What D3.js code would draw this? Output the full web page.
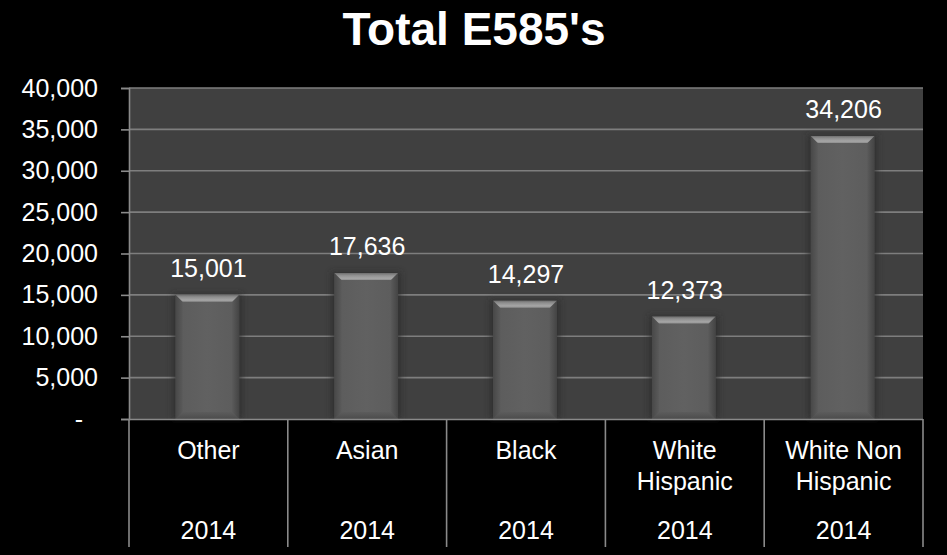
<!DOCTYPE html>
<html><head><meta charset="utf-8">
<script src="https://cdn.jsdelivr.net/npm/d3@7"></script>
<style>
html,body{margin:0;padding:0;background:#000;}
svg{display:block;font-family:"Liberation Sans",Arial,sans-serif;}
</style></head>
<body><svg id="c" width="947" height="555"></svg>
<script>
const title = "Total E585's";
const categories = ["Other","Asian","Black","White Hispanic","White Non Hispanic"];
const categoryLines = [["Other"],["Asian"],["Black"],["White","Hispanic"],["White Non","Hispanic"]];
const years = ["2014","2014","2014","2014","2014"];
const values = [15001,17636,14297,12373,34206];
const yTicks = [0,5000,10000,15000,20000,25000,30000,35000,40000];

const svg = d3.select("#c");
const W = 947, H = 555;
const plot = {left:129, right:923, top:88, bottom:419};
const FS = 25;

svg.append("rect").attr("width",W).attr("height",H).attr("fill","#000");

const x = d3.scaleBand().domain(categories).range([plot.left, plot.right]).paddingInner(0).paddingOuter(0);
const y = d3.scaleLinear().domain([0,40000]).range([plot.bottom, plot.top]);

const defs = svg.append("defs");
function lin(id, x1,y1,x2,y2, stops){
  const g = defs.append("linearGradient").attr("id",id).attr("x1",x1).attr("y1",y1).attr("x2",x2).attr("y2",y2);
  stops.forEach(s=>g.append("stop").attr("offset",s[0]).attr("stop-color",s[1]));
}
lin("body",0,0,1,0,[[0,"#505050"],[0.12,"#5d5d5d"],[0.5,"#616161"],[0.88,"#5d5d5d"],[1,"#4c4c4c"]]);
lin("topb",0,0,0,1,[[0,"#6e6e6e"],[0.3,"#8e8e8e"],[0.75,"#a6a6a6"],[1,"#8e8e8e"]]);
lin("leftb",0,0,1,0,[[0,"#484848"],[1,"#5a5a5a"]]);
lin("rightb",0,0,1,0,[[0,"#5a5a5a"],[1,"#444444"]]);
lin("botb",0,0,0,1,[[0,"#5c5c5c"],[1,"#4c4c4c"]]);
const f = defs.append("filter").attr("id","sh").attr("x","-50%").attr("y","-50%").attr("width","200%").attr("height","200%");
f.append("feGaussianBlur").attr("stdDeviation",3);

// plot background
svg.append("rect").attr("x",plot.left).attr("y",plot.top)
  .attr("width",plot.right-plot.left).attr("height",plot.bottom-plot.top).attr("fill","#404040");

// gridlines
svg.append("g").selectAll("line").data(yTicks.filter(d=>d>0)).join("line")
  .attr("x1",plot.left).attr("x2",plot.right)
  .attr("y1",d=>y(d)).attr("y2",d=>y(d))
  .attr("stroke","#7e7e7e").attr("stroke-width",1.6);

// bars
const bw = x.bandwidth()*0.4;
const b = 7;
const bars = svg.append("g").selectAll("g").data(values).join("g")
  .attr("transform",(d,i)=>`translate(${x(categories[i])+x.bandwidth()/2-bw/2-1},${y(d)})`);
bars.append("rect").attr("x",-3).attr("y",-1).attr("width",bw+6).attr("height",d=>plot.bottom-y(d)+1)
  .attr("fill","#2a2a2a").attr("opacity",0.7).attr("filter","url(#sh)");
bars.append("rect").attr("x",0).attr("y",0).attr("width",bw).attr("height",d=>plot.bottom-y(d)).attr("fill","url(#body)");
bars.append("path").attr("d",d=>{const h=plot.bottom-y(d);return `M0,0 L${b},${b} L${b},${h-b} L0,${h} Z`;}).attr("fill","url(#leftb)");
bars.append("path").attr("d",d=>{const h=plot.bottom-y(d);return `M${bw},0 L${bw-b},${b} L${bw-b},${h-b} L${bw},${h} Z`;}).attr("fill","url(#rightb)");
bars.append("path").attr("d",d=>{const h=plot.bottom-y(d);return `M0,${h} L${b},${h-b} L${bw-b},${h-b} L${bw},${h} Z`;}).attr("fill","url(#botb)");
bars.append("path").attr("d",`M0,0 L${bw},0 L${bw-b},${b} L${b},${b} Z`).attr("fill","url(#topb)");

// data labels
svg.append("g").selectAll("text").data(values).join("text")
  .attr("x",(d,i)=>x(categories[i])+x.bandwidth()/2)
  .attr("y",d=>y(d)-18)
  .attr("text-anchor","middle").attr("fill","#fff").attr("font-size",FS)
  .text(d=>d3.format(",")(d));

// y axis
const yAxis = d3.axisLeft(y).tickValues(yTicks).tickSize(8).tickPadding(23)
  .tickFormat(d=>d===0?"-":d3.format(",")(d));
const ga = svg.append("g").attr("transform",`translate(${plot.left},0)`).call(yAxis);
ga.select(".domain").attr("stroke","#8a8a8a").attr("stroke-width",1.6);
ga.selectAll(".tick line").attr("stroke","#8a8a8a").attr("stroke-width",1.6);
ga.selectAll(".tick text").attr("fill","#fff").attr("font-size",FS)
  .attr("font-family","'Liberation Sans',Arial,sans-serif")
  .attr("dx",d=>d===0?-15:0);

// category axis
svg.append("line").attr("x1",plot.left).attr("x2",plot.right).attr("y1",plot.bottom+0.5).attr("y2",plot.bottom+0.5)
  .attr("stroke","#8a8a8a").attr("stroke-width",1.6);
const edges = categories.map(c=>x(c)).concat([x(categories[categories.length-1])+x.bandwidth()]);
svg.append("g").selectAll("line").data(edges).join("line")
  .attr("x1",d=>d).attr("x2",d=>d).attr("y1",plot.bottom).attr("y2",547)
  .attr("stroke","#8a8a8a").attr("stroke-width",1.6);
const cl = svg.append("g").selectAll("text").data(categories).join("text")
  .attr("x",c=>x(c)+x.bandwidth()/2).attr("y",459)
  .attr("text-anchor","middle").attr("fill","#fff").attr("font-size",FS);
cl.each(function(c,i){
  d3.select(this).selectAll("tspan").data(categoryLines[i]).join("tspan")
    .attr("x",x(c)+x.bandwidth()/2).attr("dy",(d,j)=>j===0?0:31).text(d=>d);
});
svg.append("g").selectAll("text").data(years).join("text")
  .attr("x",(d,i)=>x(categories[i])+x.bandwidth()/2).attr("y",539)
  .attr("text-anchor","middle").attr("fill","#fff").attr("font-size",FS).text(d=>d);

// title
svg.append("text").attr("x",474).attr("y",45).attr("text-anchor","middle")
  .attr("fill","#fff").attr("font-size",46).attr("font-weight","bold").text(title);
</script></body></html>
